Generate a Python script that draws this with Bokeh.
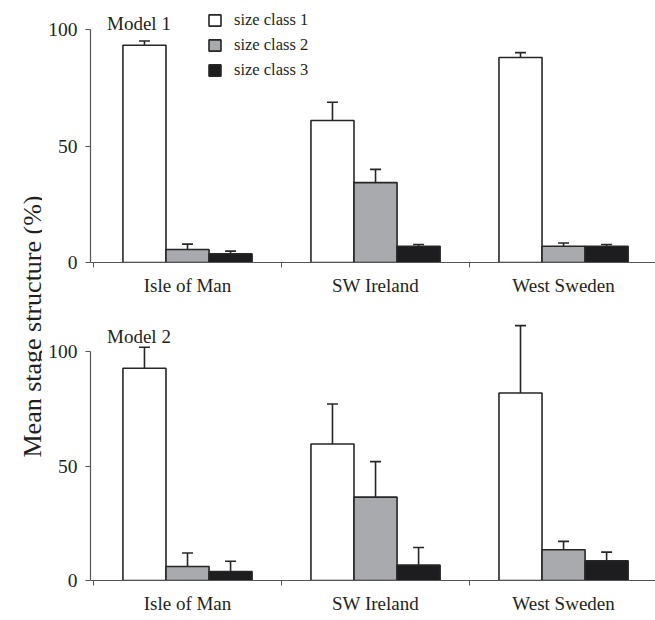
import numpy as np
from bokeh.plotting import figure
from bokeh.layouts import row, column
from bokeh.models import (ColumnDataSource, Range1d, FixedTicker, LinearAxis, Whisker,
                          TeeHead, Legend, LegendItem, Label)
from bokeh.embed import file_html
from bokeh.resources import INLINE

# ---- data -------------------------------------------------------------
sites = ["Isle of Man", "SW Ireland", "West Sweden"]
classes = ["size class 1", "size class 2", "size class 3"]

m1_class1 = [93.3, 61.0, 88.0]
m1_class2 = [5.6, 34.3, 7.0]
m1_class3 = [3.7, 7.0, 7.0]
m1_err1 = [1.8, 7.8, 2.1]
m1_err2 = [2.3, 5.7, 1.4]
m1_err3 = [1.2, 0.7, 0.7]

m2_class1 = [92.7, 59.6, 81.9]
m2_class2 = [6.1, 36.4, 13.4]
m2_class3 = [3.9, 6.7, 8.6]
m2_err1 = [9.2, 17.5, 29.4]
m2_err2 = [5.9, 15.5, 3.7]
m2_err3 = [4.5, 7.7, 3.8]

y_ticks = [0, 50, 100]

# ---- style ------------------------------------------------------------
FONT = "Liberation Serif"
TXT = "#231f20"
AX = "#555555"
fills = ["#ffffff", "#a9aaae", "#1d1d20"]
EDGE = "#262626"
BW = 0.229
X0, X1 = -0.516, 2.489


def make_panel(means, errs, title, height, top, bottom, y_end, title_y, legend=False):
    p = figure(width=613, height=height, output_backend="svg", toolbar_location=None,
               x_range=Range1d(X0, X1), y_range=Range1d(0, y_end),
               x_axis_type=None, y_axis_type=None,
               min_border_left=48, min_border_right=0,
               min_border_top=top, min_border_bottom=bottom)
    p.outline_line_color = None
    p.xgrid.visible = False
    p.ygrid.visible = False
    p.background_fill_color = "white"
    p.border_fill_color = "white"

    idx = np.arange(len(sites))
    items = []
    for k in range(3):
        xs = idx + (k - 1) * BW
        src = ColumnDataSource(dict(x=xs, top=means[k],
                                    upper=np.array(means[k]) + np.array(errs[k])))
        w = Whisker(source=src, base="x", lower="top", upper="upper",
                    line_color=EDGE, line_width=1.6, lower_head=None,
                    upper_head=TeeHead(size=11, line_color=EDGE, line_width=1.6))
        p.add_layout(w)
        r = p.vbar(x="x", top="top", bottom=0, width=BW, source=src,
                   fill_color=fills[k], line_color=EDGE, line_width=1.6)
        items.append(LegendItem(label=classes[k], renderers=[r]))

    # x axis: labels at site centres, ticks at boundaries
    xa = LinearAxis(ticker=FixedTicker(ticks=list(range(len(sites))),
                                       minor_ticks=[-0.5, 0.5, 1.5]),
                    bounds=(X0, X1))
    xa.major_label_overrides = {i: s for i, s in enumerate(sites)}
    xa.major_tick_out = 0
    xa.major_tick_in = 0
    xa.minor_tick_out = 5
    xa.minor_tick_in = 0
    xa.minor_tick_line_color = AX
    xa.axis_line_color = AX
    xa.axis_line_width = 1.2
    xa.major_label_standoff = 7
    xa.major_label_text_font = FONT
    xa.major_label_text_font_size = "19px"
    xa.major_label_text_color = TXT
    p.add_layout(xa, "below")

    ya = LinearAxis(ticker=FixedTicker(ticks=y_ticks, minor_ticks=[]), bounds=(0, 100))
    ya.major_tick_out = 5
    ya.major_tick_in = 0
    ya.major_tick_line_color = AX
    ya.axis_line_color = AX
    ya.axis_line_width = 1.2
    ya.major_label_standoff = 8
    ya.major_label_text_font = FONT
    ya.major_label_text_font_size = "19.5px"
    ya.major_label_text_color = TXT
    p.add_layout(ya, "left")

    p.add_layout(Label(x=-0.428, y=title_y, text=title, text_font=FONT,
                       text_font_size="19px", text_color=TXT,
                       text_baseline="alphabetic"))

    if legend:
        lg = Legend(items=items, location=(117, 182), orientation="vertical",
                    glyph_width=15, glyph_height=14, label_height=14, spacing=5,
                    padding=0, margin=0, label_standoff=12,
                    label_text_font=FONT, label_text_font_size="16.5px",
                    label_text_color=TXT, label_text_baseline="middle",
                    border_line_color=None, background_fill_alpha=0)
        p.add_layout(lg)
    return p


p1 = make_panel([m1_class1, m1_class2, m1_class3], [m1_err1, m1_err2, m1_err3],
                "Model 1", 300, 10, 38, 108.2, 102.6, legend=True)
p2 = make_panel([m2_class1, m2_class2, m2_class3], [m2_err1, m2_err2, m2_err3],
                "Model 2", 316, 16, 33, 115.3, 106.7)

lab = figure(width=42, height=616, output_backend="svg", toolbar_location=None,
             x_range=Range1d(0, 42), y_range=Range1d(0, 616),
             x_axis_type=None, y_axis_type=None,
             min_border=0)
lab.outline_line_color = None
lab.xgrid.visible = False
lab.ygrid.visible = False
lab.add_layout(Label(x=32, y=290, text="Mean stage structure (%)", angle=np.pi / 2,
                     text_align="center", text_baseline="alphabetic",
                     text_font=FONT, text_font_size="26px", text_color=TXT))

layout = row(lab, column(p1, p2))
open("out.html", "w").write(file_html(layout, INLINE))
